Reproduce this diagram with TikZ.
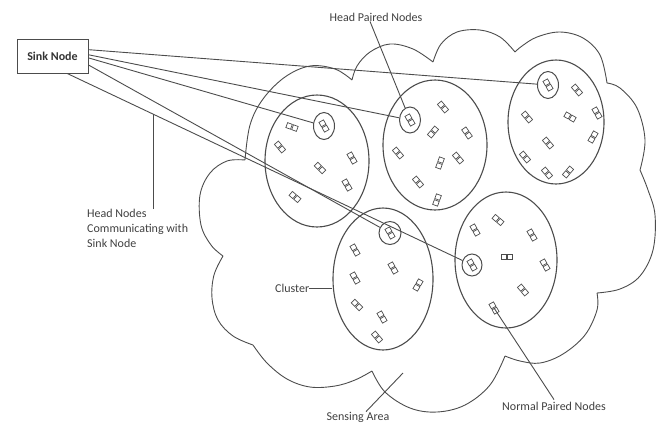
\documentclass[tikz,border=0pt]{standalone}
\usepackage{fontspec}
\setmainfont{Carlito}
\usepackage{tikz}
\usetikzlibrary{shapes.geometric, positioning}

\tikzset{
  pairnode/.pic={
    \draw[line width=0.7pt, black!70] (-5.6,-2.6) rectangle (-0.6,2.6);
    \draw[line width=0.7pt, black!70] (0.6,-2.6) rectangle (5.6,2.6);
  }
}

\begin{document}
\begin{tikzpicture}[x=1pt, y=-1pt,
  line/.style={draw=black!70, line width=0.9pt},
  cluster/.style={ellipse, draw=black!70, line width=1.1pt, inner sep=0pt},
  head/.style={ellipse, draw=black!70, line width=1pt, minimum width=21pt, minimum height=25pt, inner sep=0pt},
  lbl/.style={text=black!75, font=\fontsize{12}{15}\selectfont, inner sep=0pt}]
  \useasboundingbox (0,0) rectangle (660,426);

  % sensing area
  \draw[line] plot[smooth, tension=0.6] coordinates {(352,80) (335,69) (310,66) (285,77) (263,99) (250,125) (245,160)}
    plot[smooth, tension=0.6] coordinates {(245,160) (227,161) (210,173) (200,195) (201,225) (211,245) (223,256)}
    plot[smooth, tension=0.6] coordinates {(223,256) (214,275) (212,298) (218,320) (233,336) (253,345)}
    plot[smooth, tension=0.6] coordinates {(253,345) (267,363) (287,379) (310,387) (335,386) (355,380) (372,371)}
    plot[smooth, tension=0.6] coordinates {(372,371) (385,392) (410,408) (437,412) (465,405) (490,385) (505,356)}
    plot[smooth, tension=0.6] coordinates {(505,356) (520,361) (540,363) (563,354) (585,335) (597,310) (597,293)}
    plot[smooth, tension=0.6] coordinates {(597,293) (620,289) (640,276) (653,250) (655,215) (648,190) (640,170)}
    plot[smooth, tension=0.6] coordinates {(640,170) (645,140) (637,108) (620,88) (607,83)}
    plot[smooth, tension=0.6] coordinates {(607,83) (600,55) (583,38) (560,32) (537,37) (522,46) (515,52)}
    plot[smooth, tension=0.6] coordinates {(515,52) (500,37) (480,30) (457,32) (441,44) (433,62)}
    plot[smooth, tension=0.6] coordinates {(433,62) (413,49) (390,44) (370,52) (357,66) (352,80)};

  % clusters
  \node[cluster, minimum width=104pt, minimum height=132pt] (c1) at (317,161) {};
  \node[cluster, minimum width=104pt, minimum height=130pt] (c2) at (435,145) {};
  \node[cluster, minimum width=96pt, minimum height=124pt] (c3) at (556,122) {};
  \node[cluster, minimum width=100pt, minimum height=142pt] (c4) at (383,279) {};
  \node[cluster, minimum width=102pt, minimum height=136pt] (c5) at (506,260) {};

  % normal paired nodes
  \foreach \x/\y/\r in {292/127/-20, 280/147/-50, 320/168/-45, 352/158/-60, 347/185/-60, 295/197/-40,
                        443/107/-50, 433/132/50, 467/133/-55, 398/153/-50, 458/158/-50, 440/163/70, 418/182/-50, 437/200/70,
                        577/90/-50, 570/117/-30, 597/113/-60, 527/117/-50, 593/137/60, 548/143/-50, 525/157/-50, 547/173/-50, 568/172/50,
                        355/250/-60, 393/268/-60, 355/278/-60, 418/285/60, 357/305/-45, 382/317/-60, 377/337/-50,
                        498/220/-40, 475/230/-60, 532/235/-60, 507/257/0, 545/265/-60, 523/290/-50}
    \pic[rotate=\r] at (\x,\y) {pairnode};
  \coordinate (nrm) at (494,308);
  \pic[rotate=-60] at (nrm) {pairnode};

  % head paired nodes
  \node[head, minimum height=27pt] (h1) at (324,126) {};
  \node[head, minimum height=26pt] (h2) at (410,120) {};
  \node[head, minimum height=27pt] (h3) at (548,85) {};
  \node[head, minimum width=22pt, minimum height=23pt] (h4) at (390,233) {};
  \node[head, minimum width=20pt, minimum height=22pt] (h5) at (472,265) {};
  \foreach \h in {h1,h2,h3,h4,h5}
    \pic[rotate=-60] at (\h) {pairnode};

  % sink node and links
  \node[draw=black!70, line width=0.9pt, minimum width=71pt, minimum height=34pt, text=black!80,
        font=\bfseries\fontsize{12}{14}\selectfont] (sink) at (52.5,56) {Sink Node};
  \draw[line] (sink.10) -- (h3);
  \draw[line] (sink.2) -- (h2);
  \draw[line] (sink.357) -- (h1);
  \draw[line] (sink.346) -- (h4);
  \draw[line] (sink.310) -- (h5);

  % labels
  \node[lbl] (hpn) at (376,17) {Head Paired Nodes};
  \draw[line] ([xshift=-6pt]hpn.south) -- (h2);

  \coordinate (tap) at (153,114);
  \node[lbl, align=left, anchor=north west] (hnc) at (87,209) {Head Nodes\\Communicating with\\Sink Node};
  \draw[line] (hnc.north -| tap) -- (tap);

  \node[lbl, left=23pt of c4.west, yshift=-9pt, anchor=east] (cl) {Cluster};
  \draw[line] (cl.east) -- (cl.east -| c4.west);

  \coordinate (sap) at (403,373);
  \node[lbl] (sa) at (358,417) {Sensing Area};
  \draw[line] ([xshift=8pt]sa.north) -- (sap);

  \node[lbl] (npn) at (554,406) {Normal Paired Nodes};
  \draw[line] ([yshift=2pt]npn.north) -- (nrm);
\end{tikzpicture}
\end{document}
